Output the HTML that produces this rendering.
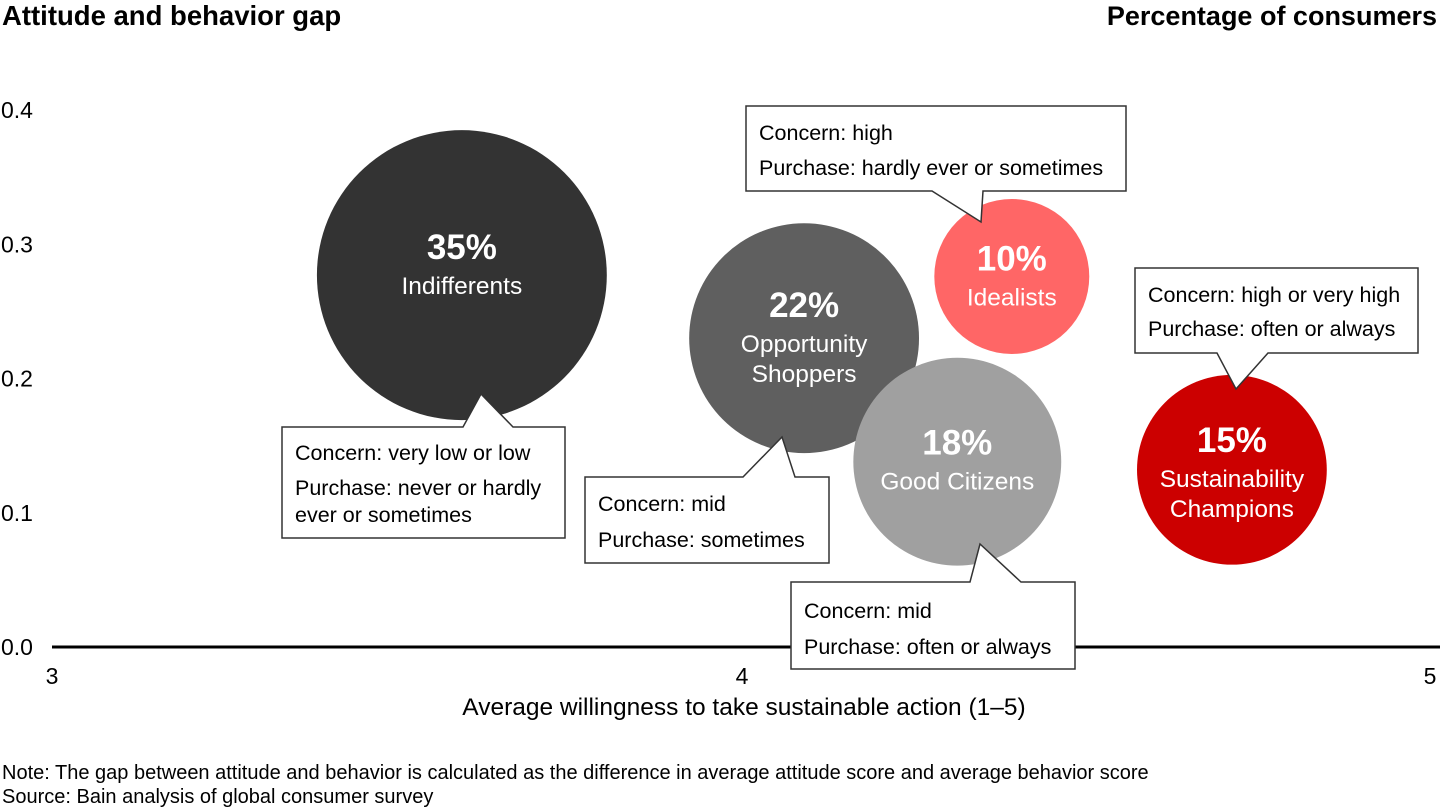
<!DOCTYPE html>
<html><head><meta charset="utf-8"><style>
html,body{margin:0;padding:0;background:#fff;}
svg{display:block;font-family:"Liberation Sans",Arial,sans-serif;}
</style></head><body>
<svg id="chart" width="1440" height="810">
<text x="2" y="25" font-size="27.5" font-weight="bold" fill="#000">Attitude and behavior gap</text>
<text x="1437" y="25" font-size="27" font-weight="bold" fill="#000" text-anchor="end">Percentage of consumers</text>
<g id="yticks"></g>
<g id="xticks"></g>
<line x1="52" y1="647" x2="1440" y2="647" stroke="#000" stroke-width="3"/>
<g id="bubbles"></g>
<g id="callouts"></g>
<text x="744" y="715" font-size="24.5" text-anchor="middle" fill="#000">Average willingness to take sustainable action (1–5)</text>
<text x="2" y="779" font-size="20" fill="#000">Note: The gap between attitude and behavior is calculated as the difference in average attitude score and average behavior score</text>
<text x="2" y="803" font-size="20" fill="#000">Source: Bain analysis of global consumer survey</text>
</svg>
<script>
const segments = ["Indifferents","Opportunity Shoppers","Idealists","Good Citizens","Sustainability Champions"];
const willingness = [3.594, 4.09, 4.391, 4.312, 4.71];
const gap = [0.277, 0.230, 0.276, 0.138, 0.132];
const share = [35, 22, 10, 18, 15];
const yTickLabels = ["0.0","0.1","0.2","0.3","0.4"];
const xTickLabels = ["3","4","5"];

const NS="http://www.w3.org/2000/svg";
const xS=v=>52+(v-3)*690;
const yS=v=>647-v*1342.5;
const rS=p=>24.5*Math.sqrt(p);
function mk(t,a,p){const e=document.createElementNS(NS,t);for(const k in a)e.setAttribute(k,a[k]);p.appendChild(e);return e;}

const yt=document.getElementById('yticks');
yTickLabels.forEach(l=>{const t=mk('text',{x:1,y:yS(+l)+8,'font-size':23,fill:'#000'},yt);t.textContent=l;

});
const xt=document.getElementById('xticks');
xTickLabels.forEach((l,i)=>{const x=xS(+l);const t=mk('text',{x:i==2?x-2:x,y:684,'font-size':23,fill:'#000','text-anchor':'middle'},xt);t.textContent=l;

});

const colors=["#333333","#5f5f5f","#ff6666","#a0a0a0","#cc0000"];
const labelLines=[["Indifferents"],["Opportunity","Shoppers"],["Idealists"],["Good Citizens"],["Sustainability","Champions"]];
const pctDy=[-16,-21,-6,-7,-18];
const bg=document.getElementById('bubbles');
[0,1,2,3,4].forEach(i=>{
 const cx=xS(willingness[i]),cy=yS(gap[i]),r=rS(share[i]);
 const c=mk('circle',{cx:cx,cy:cy,r:r,fill:colors[i]},bg);
 
 
 const t=mk('text',{x:cx,y:cy+pctDy[i],'font-size':35,'font-weight':'bold',fill:'#fff','text-anchor':'middle'},bg);
 t.textContent=share[i]+'%';
 
 
 labelLines[i].forEach((ln,j)=>{const s=mk('text',{x:cx,y:cy+pctDy[i]+35+j*30,'font-size':24.5,fill:'#fff','text-anchor':'middle'},bg);s.textContent=ln;
 
 });
});

const cg=document.getElementById('callouts');
const boxes=[
 {b:[282,427,565,538],p:[[463,427],[481,394],[513,427]],l:["Concern: very low or low","Purchase: never or hardly","ever or sometimes"],ys:[454,489,516]},
 {b:[585,477,829,563],p:[[743,477],[782,437],[795,477]],l:["Concern: mid","Purchase: sometimes"],ys:[505,541]},
 {b:[746,106,1126,191],p:[[932,191],[981,222],[983,191]],l:["Concern: high","Purchase: hardly ever or sometimes"],ys:[134,169]},
 {b:[791,582,1075,669],p:[[970,582],[980,544],[1021,582]],l:["Concern: mid","Purchase: often or always"],ys:[612,648]},
 {b:[1135,268,1418,353],p:[[1217,353],[1236,389],[1268,353]],l:["Concern: high or very high","Purchase: often or always"],ys:[296,330]}
];
boxes.forEach(o=>{
 const [x1,y1,x2,y2]=o.b,p=o.p;
 let d;
 if(p[1][1]<y1) d=`M${x1},${y1}L${p[0][0]},${y1}L${p[1][0]},${p[1][1]}L${p[2][0]},${y1}L${x2},${y1}L${x2},${y2}L${x1},${y2}Z`;
 else d=`M${x1},${y1}L${x2},${y1}L${x2},${y2}L${p[2][0]},${y2}L${p[1][0]},${p[1][1]}L${p[0][0]},${y2}L${x1},${y2}Z`;
 const e=mk('path',{d:d,fill:'#fff',stroke:'#333','stroke-width':1.5},cg);
 
 
 o.l.forEach((ln,j)=>{const t=mk('text',{x:x1+13,y:o.ys[j]+6,'font-size':21.5,fill:'#000'},cg);t.textContent=ln;
 
 });
});
</script>
</body></html>
